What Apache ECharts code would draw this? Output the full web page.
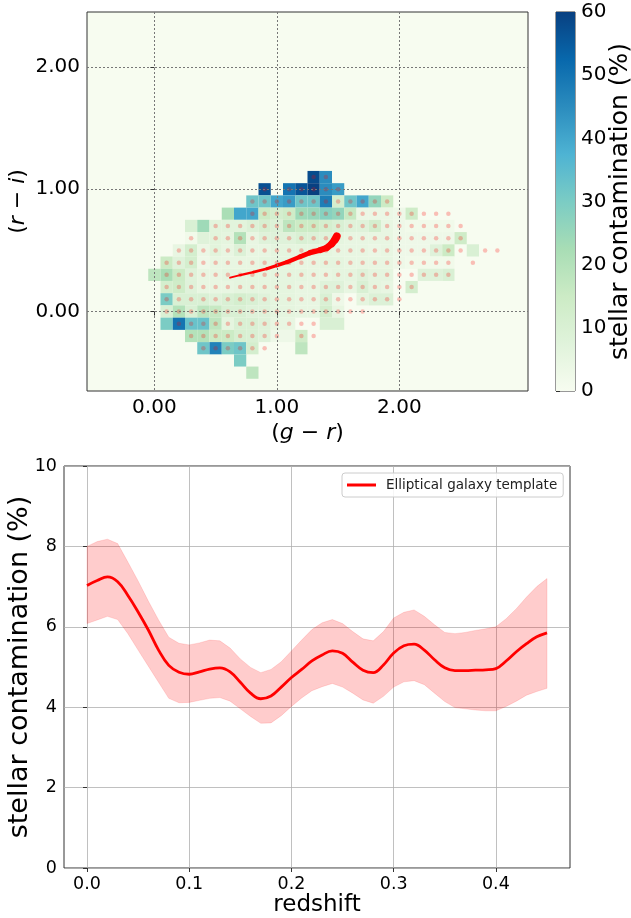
<!DOCTYPE html>
<html>
<head>
<meta charset="utf-8">
<script src="https://cdn.jsdelivr.net/npm/echarts@6/dist/echarts.min.js"></script>
<style>html,body{margin:0;padding:0;background:#fff}#chart{width:631px;height:918px}</style>
</head>
<body>
<div id="chart"></div>
<script>
const _ = null;
// ---------- top panel: colour-colour stellar contamination map ----------
const binWidth = 0.1;
const grCenters = [0.0,0.1,0.2,0.3,0.4,0.5,0.6,0.7,0.8,0.9,1.0,1.1,1.2,1.3,1.4,1.5,1.6,1.7,1.8,1.9,2.0,2.1,2.2,2.3,2.4,2.5,2.6,2.7,2.8];
const riCenters = [1.1,1.0,0.9,0.8,0.7,0.6,0.5,0.4,0.3,0.2,0.1,0.0,-0.1,-0.2,-0.3,-0.4,-0.5];
const contamination = [
  [_,_,_,_,_,_,_,_,_,_,  _,_,_,58,45,_,_,_,_,_,  _,_,_,_,_,_,_,_,_],
  [_,_,_,_,_,_,_,_,_,57,  _,50,56,60,45,42,_,_,_,_,  _,_,_,_,_,_,_,_,_],
  [_,_,_,_,_,_,_,_,32,32,  40,42,32,32,48,12,32,40,26,15,  _,_,_,_,_,_,_,_,_],
  [_,_,_,_,_,_,22,40,40,15,  12,14,24,25,28,26,16,4,4,4,  3,14,_,_,_,_,_,_,_],
  [_,_,_,10,24,7,7,7,9,11,  9,18,15,15,12,10,8,8,12,5,  3,2,2,2,2,_,_,_,_],
  [_,_,_,2,8,7,6,20,5,8,  8,8,10,9,8,6,5,5,5,5,  3,3,3,3,3,14,_,_,_],
  [_,_,5,12,4,7,5,9,5,5,  6,6,6,6,6,5,5,5,4,5,  3,3,3,8,15,_,10,_,_],
  [_,15,8,12,3,5,5,5,5,6,  6,6,5,5,6,6,5,5,5,5,  3,2,2,2,2,_,_,_,_],
  [18,22,15,8,5,5,6,6,6,6,  6,6,6,5,5,6,6,8,6,6,  _,_,8,8,10,_,_,_,_],
  [_,12,14,8,5,5,5,6,6,6,  6,6,5,5,8,8,5,10,6,5,  _,12,_,_,_,_,_,_,_],
  [_,30,10,10,10,8,10,12,10,8,  6,6,5,5,10,3,_,6,9,9,  _,_,_,_,_,_,_,_,_],
  [_,10,20,10,18,16,10,10,8,8,  6,6,5,5,12,5,_,_,_,_,  _,_,_,_,_,_,_,_,_],
  [_,30,50,33,33,18,6,10,10,8,  5,5,_,_,10,10,_,_,_,_,  _,_,_,_,_,_,_,_,_],
  [_,_,_,20,20,15,15,11,10,8,  3,3,14,_,_,_,_,_,_,_,  _,_,_,_,_,_,_,_,_],
  [_,_,_,_,32,47,30,32,12,_,  _,_,18,_,_,_,_,_,_,_,  _,_,_,_,_,_,_,_,_],
  [_,_,_,_,_,_,_,30,_,_,  _,_,_,_,_,_,_,_,_,_,  _,_,_,_,_,_,_,_,_],
  [_,_,_,_,_,_,_,_,18,_,  _,_,_,_,_,_,_,_,_,_,  _,_,_,_,_,_,_,_,_]
];
// column indices (into grCenters) of the sample points, one list per row of riCenters
const dotColumns = [
  [13,14],
  [9,11,12,13,14,15],
  [8,9,10,11,12,13,14,15,16,17,18,19],
  [8,9,10,11,12,13,14,15,16,17,18,19,20,21,22,23,24],
  [5,6,7,8,9,10,11,12,13,14,15,16,17,18,19,20,21,22,23,24,25],
  [3,5,6,7,8,9,10,11,12,13,14,15,16,17,18,19,20,21,22,23,24,25],
  [2,3,4,5,6,7,8,9,10,11,12,13,14,15,16,17,18,19,20,21,22,23,24,25,27,28],
  [1,2,3,4,5,6,7,8,9,10,11,12,13,14,15,16,17,18,19,20,21,22,23,24,26],
  [1,2,3,4,5,6,7,8,9,10,11,12,13,14,15,16,17,18,19,20,21,22,23,24],
  [1,2,3,4,5,6,7,8,9,10,11,12,13,14,15,16,17,18,19,20,21],
  [1,2,3,4,5,6,7,8,9,10,11,12,13,14,15,16,17,18,19,20],
  [1,2,3,4,5,6,7,8,9,10,11,12,13,14,15,16,17],
  [2,3,4,5,6,7,8,9,10,11,12,13],
  [3,4,5,6,7,8,9,10,12,13],
  [4,5,6,7,8,9],
  [],
  []
];
// elliptical galaxy template track in (g-r, r-i)
const trackGR = [0.618,0.70,0.808,0.918,0.999,1.081,1.189,1.271,1.353,1.407,1.448,1.475,1.489];
const trackRI = [0.277,0.298,0.323,0.350,0.377,0.404,0.448,0.481,0.502,0.521,0.554,0.589,0.616];
const colourTicks = [0, 1, 2];
const colourRange = [0, 60];

// ---------- bottom panel: contamination vs redshift ----------
const redshift = [0.00,0.01,0.02,0.03,0.04,0.05,0.06,0.07,0.08,0.09,0.10,0.11,0.12,0.13,0.14,0.15,0.16,0.17,0.18,0.19,0.20,0.21,0.22,0.23,0.24,0.25,0.26,0.27,0.28,0.29,0.30,0.31,0.32,0.33,0.34,0.35,0.36,0.37,0.38,0.39,0.40,0.41,0.42,0.43,0.44,0.45];
const meanContam = [7.03,7.15,7.24,7.12,6.78,6.37,5.92,5.42,5.04,4.87,4.82,4.88,4.95,4.98,4.88,4.62,4.35,4.21,4.28,4.50,4.74,4.94,5.15,5.30,5.40,5.34,5.12,4.92,4.86,5.05,5.35,5.53,5.57,5.42,5.18,4.98,4.91,4.91,4.92,4.93,4.96,5.15,5.38,5.58,5.75,5.85];
const upperContam = [8.00,8.12,8.18,8.07,7.61,7.14,6.64,6.17,5.74,5.59,5.55,5.60,5.67,5.65,5.47,5.20,4.99,4.86,4.94,5.13,5.40,5.67,5.93,6.10,6.18,6.08,5.88,5.70,5.65,5.88,6.22,6.36,6.42,6.26,6.05,5.86,5.83,5.86,5.91,5.95,6.00,6.20,6.45,6.74,7.00,7.20];
const lowerContam = [6.08,6.17,6.26,6.18,5.83,5.42,5.02,4.62,4.22,4.11,4.12,4.17,4.22,4.24,4.15,3.96,3.77,3.60,3.61,3.79,4.02,4.23,4.41,4.51,4.59,4.50,4.35,4.18,4.10,4.27,4.50,4.63,4.66,4.56,4.35,4.14,3.99,3.96,3.93,3.91,3.91,4.02,4.15,4.30,4.39,4.47];
const redshiftTicks = [0.0, 0.1, 0.2, 0.3, 0.4];
const seriesName = 'Elliptical galaxy template';

// ---------- build ----------
const FONT = 'DejaVu Sans';
const GnBu = ['#f7fcf0','#e0f3db','#ccebc5','#a8ddb5','#7bccc4','#4eb3d3','#2b8cbe','#0868ac','#084081'];

const cellData = [];
riCenters.forEach((ri, r) => grCenters.forEach((gr, c) => {
  const v = contamination[r][c];
  if (v !== null) cellData.push([gr, ri, v]);
}));
const dotData = [];
riCenters.forEach((ri, r) => dotColumns[r].forEach(c => dotData.push([grCenters[c], ri])));
const trackData = trackGR.slice(0, -1).map((g, k) => [g, trackRI[k], trackGR[k + 1], trackRI[k + 1]]);
const bandData = redshift.map((z, k) => [z, lowerContam[k], upperContam[k]]);
const meanData = redshift.map((z, k) => [z, meanContam[k]]);

const tickFont = (size) => ({ fontSize: size, color: '#000', fontFamily: FONT });
const nameFont = (size) => ({
  fontSize: size, color: '#000', fontFamily: FONT,
  rich: { it: { fontStyle: 'italic', fontSize: size, color: '#000', fontFamily: FONT } }
});

const chart = echarts.init(document.getElementById('chart'), null, { renderer: 'canvas' });
chart.setOption({
  animation: false,
  backgroundColor: '#ffffff',
  textStyle: { fontFamily: FONT },
  grid: [
    { left: 87, top: 12, width: 441, height: 379, show: true, backgroundColor: '#f7fcf0', borderColor: '#333', borderWidth: 1, outerBoundsMode: 'none', containLabel: false },
    { left: 556, top: 12, width: 19, height: 379, show: true, backgroundColor: 'transparent', borderColor: '#333', borderWidth: 1, outerBoundsMode: 'none', containLabel: false },
    { left: 64, top: 466, width: 506, height: 402, show: true, backgroundColor: '#fff', borderColor: '#333', borderWidth: 1, outerBoundsMode: 'none', containLabel: false }
  ],
  visualMap: [{
    type: 'continuous', show: false, seriesIndex: 0, dimension: 2,
    min: colourRange[0], max: colourRange[1], inRange: { color: GnBu }
  }],
  legend: {
    data: [seriesName], left: 342, top: 473, orient: 'horizontal',
    icon: 'rect', itemWidth: 29, itemHeight: 3,
    padding: [5, 6, 5, 5],
    backgroundColor: 'rgba(255,255,255,0.85)', borderColor: '#cccccc', borderWidth: 1, borderRadius: 3,
    textStyle: { fontSize: 13.5, color: '#222', fontFamily: FONT, padding: [0, 0, 0, 5] }
  },
  xAxis: [
    {
      gridIndex: 0, type: 'value', min: -0.55, max: 3.05, z: 10,
      axisLine: { show: false },
      axisTick: { show: true, length: 4, lineStyle: { color: '#333' }, customValues: colourTicks },
      axisLabel: { customValues: colourTicks, formatter: v => v.toFixed(2), margin: 7, ...tickFont(20) },
      splitLine: { show: true, lineStyle: { color: '#777', type: [2, 2], width: 1 } },
      name: '({it|g} − {it|r})', nameLocation: 'middle', nameGap: 31, nameMoveOverlap: false, nameTextStyle: nameFont(22)
    },
    { gridIndex: 1, type: 'value', min: 0, max: 1, show: false },
    {
      gridIndex: 2, type: 'value', min: -0.0225, max: 0.4725,
      axisLine: { show: false },
      axisTick: { show: true, length: 4, lineStyle: { color: '#333' }, customValues: redshiftTicks },
      axisLabel: { customValues: redshiftTicks, formatter: v => v.toFixed(1), margin: 7, ...tickFont(17.5) },
      splitLine: { show: true, lineStyle: { color: '#b0b0b0', width: 0.8 } },
      name: 'redshift', nameLocation: 'middle', nameGap: 26, nameMoveOverlap: false, nameTextStyle: nameFont(23)
    }
  ],
  yAxis: [
    {
      gridIndex: 0, type: 'value', min: -0.65, max: 2.45, z: 10,
      axisLine: { show: false },
      axisTick: { show: true, length: 4, lineStyle: { color: '#333' }, customValues: colourTicks },
      axisLabel: { customValues: colourTicks, formatter: v => v.toFixed(2), margin: 7, ...tickFont(20) },
      splitLine: { show: true, lineStyle: { color: '#777', type: [2, 2], width: 1 } },
      name: '({it|r} − {it|i})', nameLocation: 'middle', nameRotate: 90, nameGap: 58, nameMoveOverlap: false, nameTextStyle: nameFont(22)
    },
    {
      gridIndex: 1, type: 'value', position: 'right', min: colourRange[0], max: colourRange[1], interval: 10,
      axisLine: { show: false },
      axisTick: { show: true, length: 4, lineStyle: { color: '#333' } },
      axisLabel: { margin: 6, ...tickFont(20) },
      splitLine: { show: false },
      name: 'stellar contamination (%)', nameLocation: 'middle', nameRotate: 90, nameGap: 33, nameMoveOverlap: false, nameTextStyle: nameFont(25)
    },
    {
      gridIndex: 2, type: 'value', min: 0, max: 10, interval: 2,
      axisLine: { show: false },
      axisTick: { show: true, length: 4, lineStyle: { color: '#333' } },
      axisLabel: { margin: 7, ...tickFont(17.5) },
      splitLine: { show: true, lineStyle: { color: '#b0b0b0', width: 0.8 } },
      name: 'stellar contamination (%)', nameLocation: 'middle', nameRotate: 90, nameGap: 31, nameMoveOverlap: false, nameTextStyle: nameFont(27)
    }
  ],
  series: [
    {
      type: 'custom', xAxisIndex: 0, yAxisIndex: 0, z: 2, silent: true,
      encode: { x: 0, y: 1 }, data: cellData,
      renderItem: (params, api) => {
        const x = api.value(0), y = api.value(1), h = binWidth / 2;
        const p0 = api.coord([x - h, y + h]);
        const p1 = api.coord([x + h, y - h]);
        return { type: 'rect', shape: { x: p0[0], y: p0[1], width: p1[0] - p0[0], height: p1[1] - p0[1] },
                 style: { fill: api.visual('color') } };
      }
    },
    {
      type: 'scatter', xAxisIndex: 0, yAxisIndex: 0, z: 3, silent: true,
      symbol: 'circle', symbolSize: 4.5, data: dotData,
      itemStyle: { color: 'rgba(255,0,0,0.3)' }
    },
    {
      type: 'custom', xAxisIndex: 0, yAxisIndex: 0, z: 4, silent: true,
      encode: { x: [0, 2], y: [1, 3] }, data: trackData,
      renderItem: (params, api) => {
        const a = api.coord([api.value(0), api.value(1)]);
        const b = api.coord([api.value(2), api.value(3)]);
        const f = (params.dataIndex + 1) / trackData.length;
        return { type: 'line', shape: { x1: a[0], y1: a[1], x2: b[0], y2: b[1] },
                 style: { stroke: '#ff0000', lineWidth: 1.6 + 6.2 * Math.pow(f, 1.2), lineCap: 'round' } };
      }
    },
    {
      type: 'custom', xAxisIndex: 1, yAxisIndex: 1, silent: true,
      encode: { x: [0, 2], y: [1, 3] }, data: [[0, colourRange[0], 1, colourRange[1]]],
      renderItem: (params, api) => {
        const p0 = api.coord([api.value(0), api.value(3)]);
        const p1 = api.coord([api.value(2), api.value(1)]);
        return { type: 'rect', shape: { x: p0[0], y: p0[1], width: p1[0] - p0[0], height: p1[1] - p0[1] },
                 style: { fill: { type: 'linear', x: 0, y: 1, x2: 0, y2: 0, global: false,
                   colorStops: GnBu.map((c, k) => ({ offset: k / (GnBu.length - 1), color: c })) } } };
      }
    },
    {
      type: 'custom', xAxisIndex: 2, yAxisIndex: 2, silent: true, z: 2,
      encode: { x: 0, y: [1, 2] }, data: bandData,
      renderItem: (params, api) => {
        if (params.dataIndex !== 0) return null;
        const pts = [];
        for (let k = 0; k < bandData.length; k++) pts.push(api.coord([bandData[k][0], bandData[k][2]]));
        for (let k = bandData.length - 1; k >= 0; k--) pts.push(api.coord([bandData[k][0], bandData[k][1]]));
        return { type: 'polygon', shape: { points: pts }, style: { fill: 'rgba(255,0,0,0.2)', stroke: 'rgba(255,0,0,0.12)', lineWidth: 1 } };
      }
    },
    {
      name: seriesName, type: 'line', xAxisIndex: 2, yAxisIndex: 2, data: meanData,
      symbol: 'none', smooth: 0.4, color: '#ff0000',
      lineStyle: { color: '#ff0000', width: 2.8 }, z: 5
    }
  ]
});
</script>
</body>
</html>
